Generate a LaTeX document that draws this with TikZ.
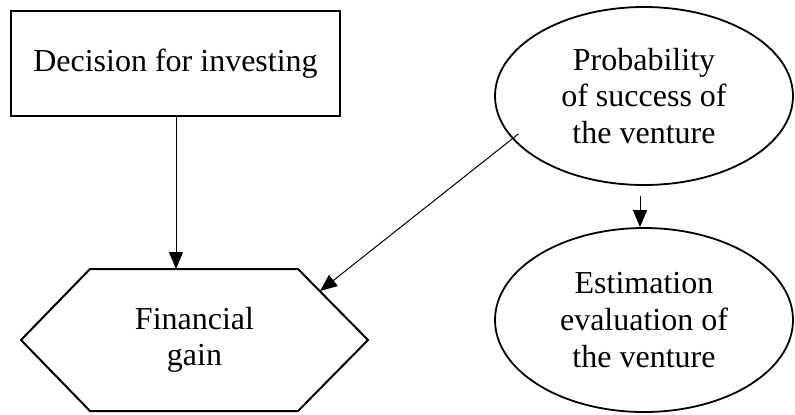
\documentclass[tikz,border=0pt]{standalone}
\usepackage{fontspec}
\setmainfont{Liberation Serif}
\usetikzlibrary{arrows.meta,shapes.geometric}
\begin{document}
\begin{tikzpicture}[x=0.5pt,y=-0.5pt,
  every node/.style={font=\fontsize{16}{18.3}\selectfont, align=center, inner sep=0pt},
  boxshape/.style={draw, line width=1pt, minimum width=164.5pt, minimum height=52.5pt},
  oval/.style={draw, ellipse, line width=0.9pt, minimum width=149pt},
  link/.style={line width=0.5pt, -{Triangle[length=8.5pt,width=7pt]}}
]
\useasboundingbox (0,0) rectangle (795,414);

% decision box
\node[boxshape] (dec) at (175.5,63.5) {Decision for investing};

% hexagonal outcome node
\draw[line width=1pt, line join=miter]
  (21,340) -- (90,269) -- (298,269) -- (368,340) -- (298,411) -- (90,411) -- cycle;
\node (fin) at (194.5,340) {Financial\\gain};
\coordinate (finTop) at (176,269);
\coordinate (finNE) at (320,291);

% uncertainty ovals
\node[oval, minimum height=89pt] (prob) at (644,96) {Probability\\of success of\\the venture};
\node[oval, minimum height=92pt] (est) at (644,320) {Estimation\\evaluation of\\the venture};

% influences
\draw[link] (dec.south -| finTop) -- (finTop);
\draw[link, shorten <=-4pt] (prob.198) -- (finNE);
\draw[link, shorten <=5pt] ([xshift=-2pt]prob.south) -- ([xshift=-2pt]est.north);
\end{tikzpicture}
\end{document}
